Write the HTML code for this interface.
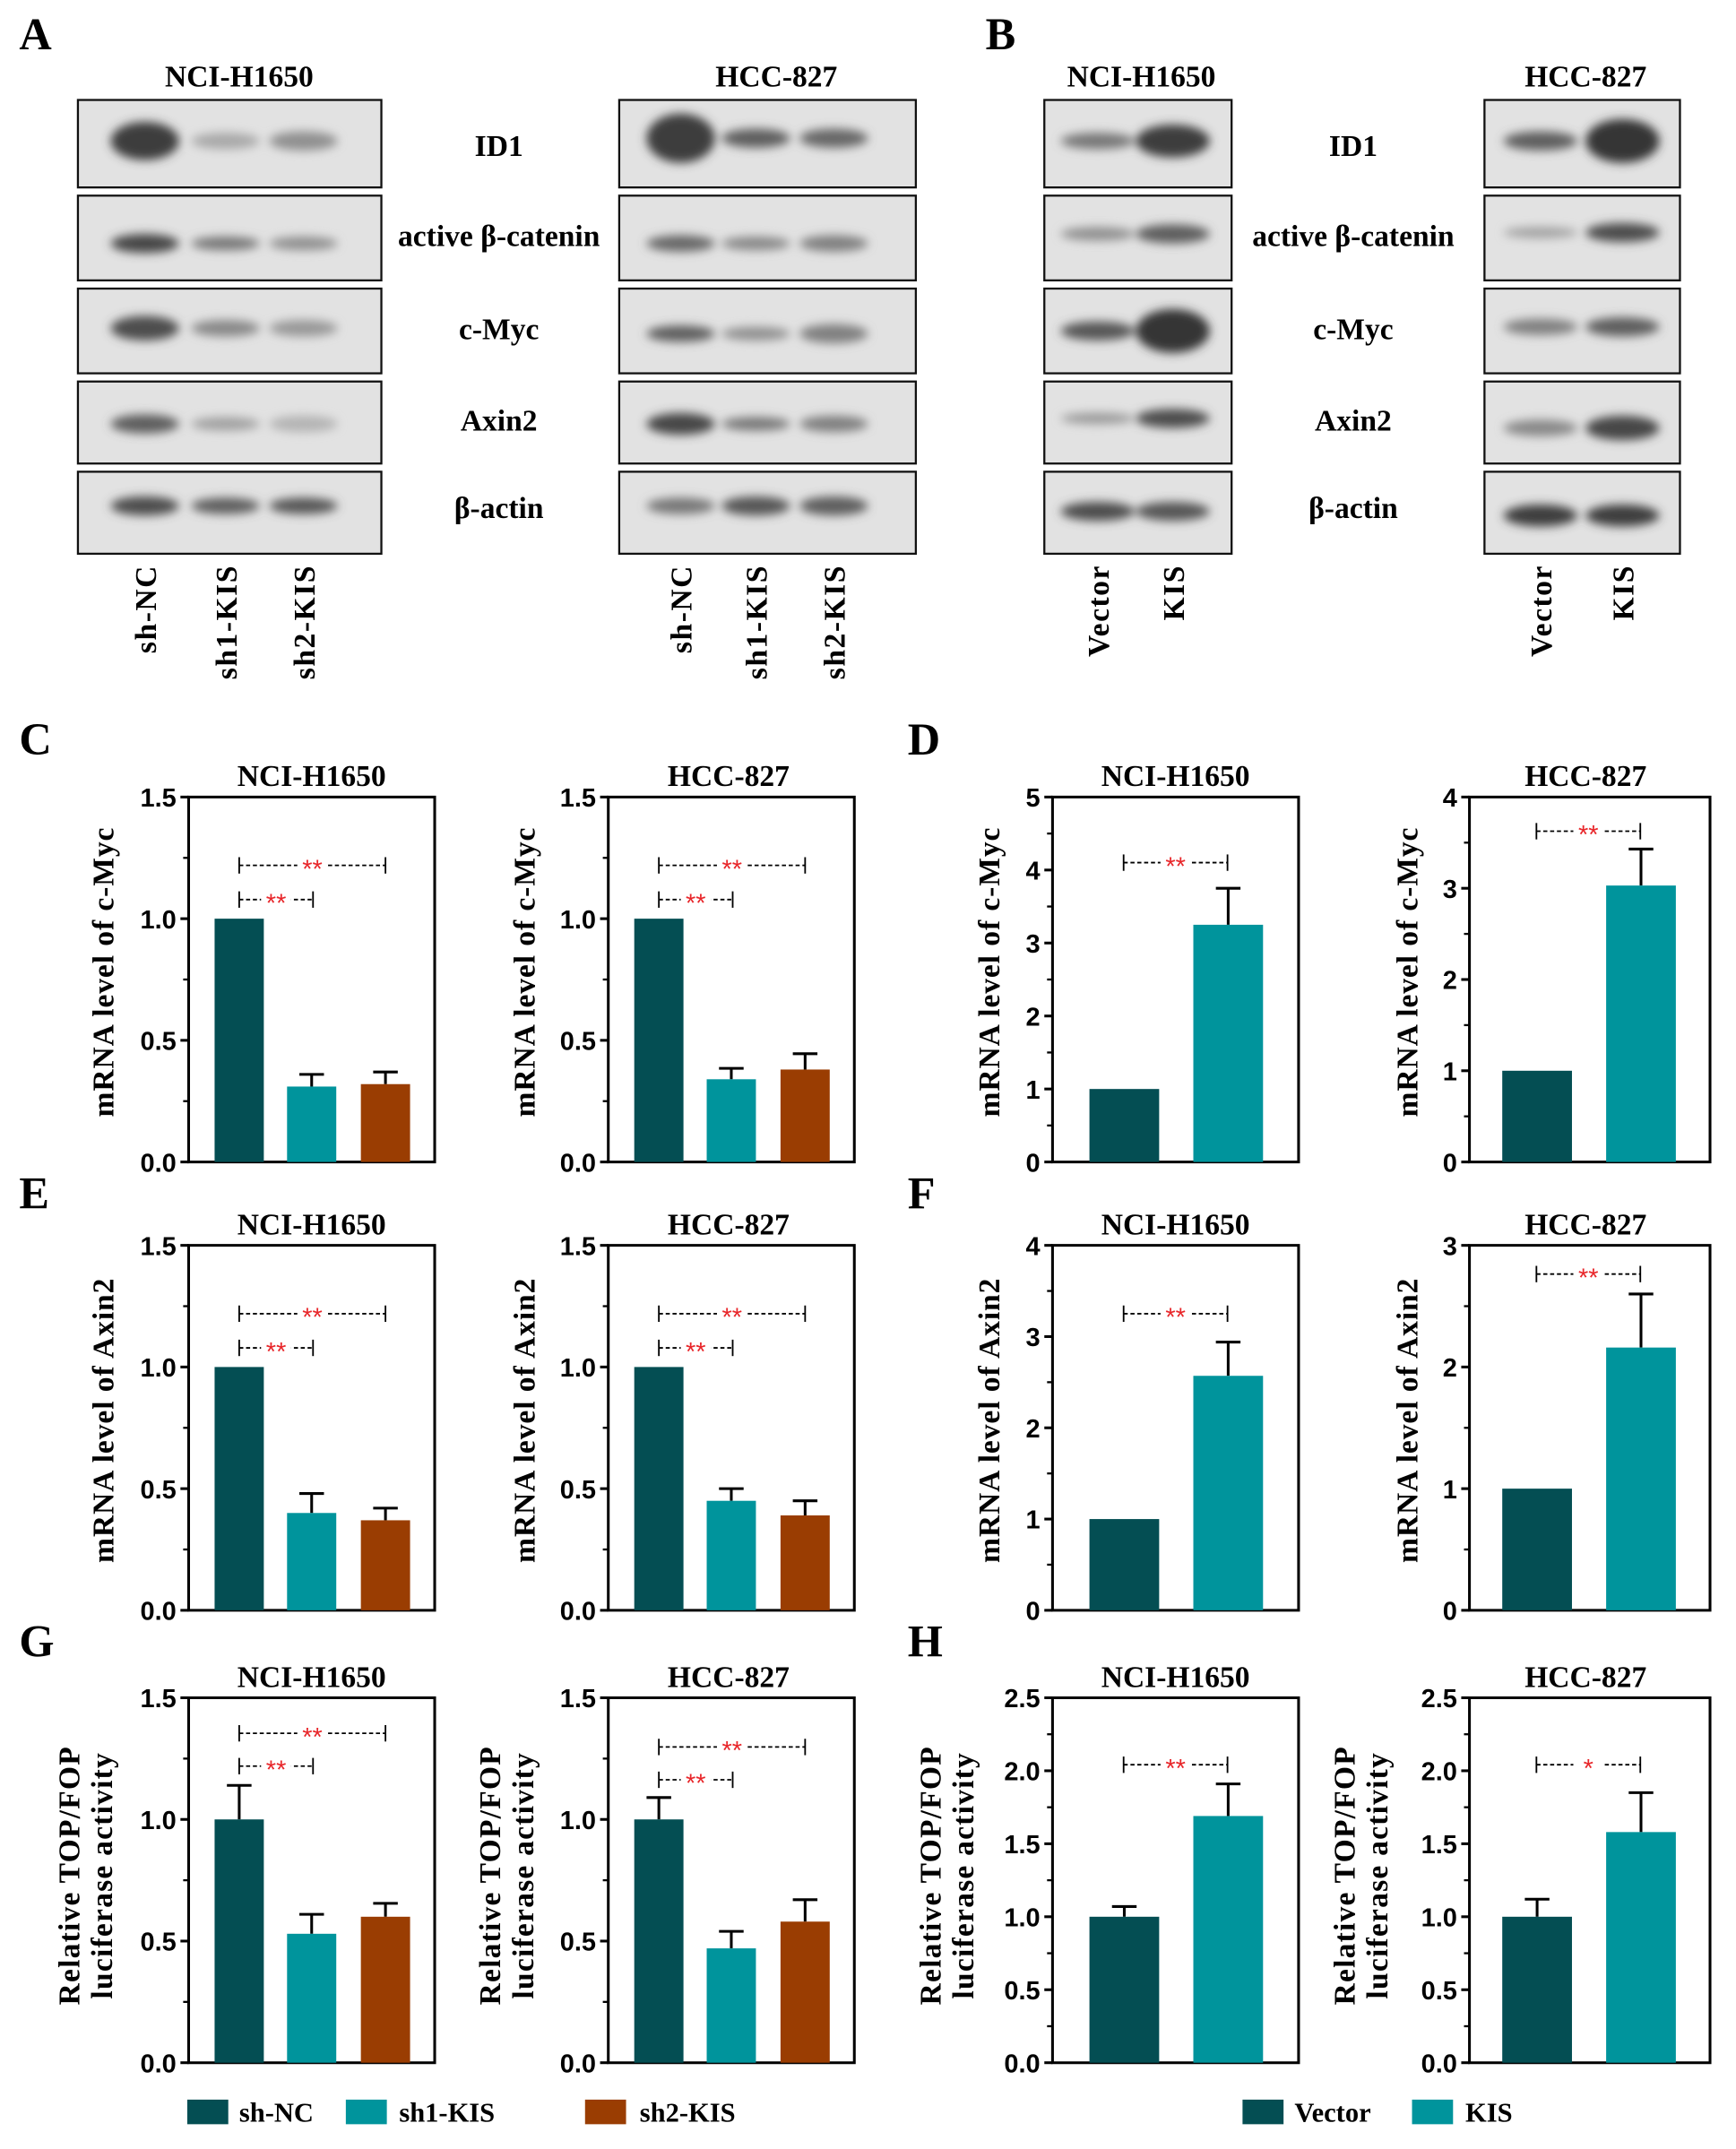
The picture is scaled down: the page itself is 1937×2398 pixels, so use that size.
<!DOCTYPE html>
<html><head><meta charset="utf-8">
<style>
html,body{margin:0;padding:0;background:#fff;}
svg{display:block;}
.t{font-family:"Liberation Serif",serif;font-weight:bold;}
.tk{font-family:"Liberation Sans Narrow","Liberation Sans",sans-serif;font-weight:bold;font-size:19px;}
</style></head>
<body>
<svg id="fig" width="1937" height="2398" viewBox="0 0 1270 1572" xmlns="http://www.w3.org/2000/svg">
<defs>
<filter id="blur" x="-50%" y="-100%" width="200%" height="300%"><feGaussianBlur stdDeviation="3.5"/></filter>
</defs>
<g id="blots"></g>
<g id="charts"></g>
</svg>
<script>
// ---------- chart data ----------
const groups3 = ["sh-NC","sh1-KIS","sh2-KIS"];
const groups2 = ["Vector","KIS"];
const cLeftVals = [1.0,0.31,0.32];   const cLeftErr = [0,0.05,0.05];
const cRightVals = [1.0,0.34,0.38];  const cRightErr = [0,0.045,0.065];
const dLeftVals = [1.0,3.25];        const dLeftErr = [0,0.5];
const dRightVals = [1.0,3.03];       const dRightErr = [0,0.4];
const eLeftVals = [1.0,0.40,0.37];   const eLeftErr = [0,0.08,0.05];
const eRightVals = [1.0,0.45,0.39];  const eRightErr = [0,0.05,0.06];
const fLeftVals = [1.0,2.57];        const fLeftErr = [0,0.37];
const fRightVals = [1.0,2.16];       const fRightErr = [0,0.44];
const gLeftVals = [1.0,0.53,0.60];   const gLeftErr = [0.14,0.08,0.055];
const gRightVals = [1.0,0.47,0.58];  const gRightErr = [0.09,0.07,0.09];
const hLeftVals = [1.0,1.69];        const hLeftErr = [0.07,0.22];
const hRightVals = [1.0,1.58];       const hRightErr = [0.12,0.27];
const ticks15 = ["0.0","0.5","1.0","1.5"];
const ticks5 = ["0","1","2","3","4","5"];
const ticks4 = ["0","1","2","3","4"];
const ticks3 = ["0","1","2","3"];
const ticks25 = ["0.0","0.5","1.0","1.5","2.0","2.5"];

const NS="http://www.w3.org/2000/svg";
const colors=["#044e53","#00949c","#9a3d02"];
function mk(parent,tag,attrs,text){const e=document.createElementNS(NS,tag);for(const k in attrs)e.setAttribute(k,attrs[k]);if(text!==undefined)e.textContent=text;parent.appendChild(e);return e;}
const charts=document.getElementById('charts');
const blots=document.getElementById('blots');

function chart(o){
  const g=mk(charts,'g',{});
  
  
  const top=o.top,bot=o.top+267,L=o.left,R=o.right;
  const max=parseFloat(o.ticks[o.ticks.length-1]);
  const y=v=>bot-(v/max)*(bot-top);
  mk(g,'path',{d:`M${L},${top}H${R}V${bot}H${L}Z`,fill:'none',stroke:'#000','stroke-width':2});
  const step=max/(o.ticks.length-1);
  o.ticks.forEach((t,i)=>{
    const v=parseFloat(t);
    mk(g,'line',{x1:L-6,x2:L,y1:y(v),y2:y(v),stroke:'#000','stroke-width':2});
    const tl=mk(g,'text',{x:L-9,y:y(v)+7,'text-anchor':'end',class:'tk'},t);
    
    
    if(i<o.ticks.length-1) mk(g,'line',{x1:L-4,x2:L,y1:y(v+step/2),y2:y(v+step/2),stroke:'#000','stroke-width':1.5});
  });
  o.vals.forEach((v,i)=>{
    const x0=o.bx[i],w=o.bw;
    const e=o.err[i];
    if(e>0){
      mk(g,'line',{x1:x0+w/2,x2:x0+w/2,y1:y(v),y2:y(v+e),stroke:'#000','stroke-width':2});
      mk(g,'line',{x1:x0+w/2-9,x2:x0+w/2+9,y1:y(v+e),y2:y(v+e),stroke:'#000','stroke-width':2});
    }
    const b=mk(g,'rect',{x:x0,y:y(v),width:w,height:bot-y(v),fill:colors[i]});
    
    
  });
  const tt=mk(g,'text',{x:o.titleX,y:top-8,'text-anchor':'middle',class:'t','font-size':22},o.title);
  
  
  const lab=o.ylab;
  if(lab.length===1){
    const yl=mk(g,'text',{transform:`translate(${o.ylx},${top+128}) rotate(-90)`,'text-anchor':'middle',class:'t','font-size':22,'font-family':'Liberation Serif','letter-spacing':'0.6'},lab[0]);
    
    
  } else {
    const yl=mk(g,'text',{transform:`translate(${o.ylx},${top+130}) rotate(-90)`,'text-anchor':'middle',class:'t','font-size':22,'letter-spacing':'0.8'},'');
    
    
    mk(yl,'tspan',{x:0,y:-12},lab[0]);mk(yl,'tspan',{x:0,y:12},lab[1]);
  }
  o.br.forEach(b=>{
    const x1=b[0],x2=b[1],yy=top+b[2];
    mk(g,'line',{x1:x1,x2:x2,y1:yy,y2:yy,stroke:'#000','stroke-width':1.2,'stroke-dasharray':'3,2'});
    mk(g,'line',{x1:x1,x2:x1,y1:yy-6,y2:yy+6,stroke:'#000','stroke-width':1.2});
    mk(g,'line',{x1:x2,x2:x2,y1:yy-6,y2:yy+6,stroke:'#000','stroke-width':1.2});
    const m=(x1+x2)/2;
    mk(g,'rect',{x:m-11,y:yy-6,width:22,height:12,fill:'#fff'});
    const s=mk(g,'text',{x:m,y:yy+9,'text-anchor':'middle',fill:'#e8262a','font-family':'Liberation Sans','font-size':19},b[3]);
    
    
  });
}
const bx3L=[157,210,264], bx3R=[464,517,571], bx2L=[797,873], bx2R=[1099,1175];
const brL=[[175,282,50,'**'],[175,229,75,'**']], brR=[[482,589,50,'**'],[482,536,75,'**']];
chart({name:'chart-c-nci-h1650',top:583,left:138,right:318,bx:bx3L,bw:36,vals:cLeftVals,err:cLeftErr,groups:groups3,ticks:ticks15,title:'NCI-H1650',titleX:228,ylab:['mRNA level of c-Myc'],ylx:83,br:brL});
chart({name:'chart-c-hcc-827',top:583,left:445,right:625,bx:bx3R,bw:36,vals:cRightVals,err:cRightErr,groups:groups3,ticks:ticks15,title:'HCC-827',titleX:533,ylab:['mRNA level of c-Myc'],ylx:391,br:brR});
chart({name:'chart-d-nci-h1650',top:583,left:770,right:950,bx:bx2L,bw:51,vals:dLeftVals,err:dLeftErr,groups:groups2,ticks:ticks5,title:'NCI-H1650',titleX:860,ylab:['mRNA level of c-Myc'],ylx:731,br:[[822,898,48,'**']]});
chart({name:'chart-d-hcc-827',top:583,left:1075,right:1251,bx:bx2R,bw:51,vals:dRightVals,err:dRightErr,groups:groups2,ticks:ticks4,title:'HCC-827',titleX:1160,ylab:['mRNA level of c-Myc'],ylx:1037,br:[[1124,1200,25,'**']]});
chart({name:'chart-e-nci-h1650',top:911,left:138,right:318,bx:bx3L,bw:36,vals:eLeftVals,err:eLeftErr,groups:groups3,ticks:ticks15,title:'NCI-H1650',titleX:228,ylab:['mRNA level of Axin2'],ylx:83,br:brL});
chart({name:'chart-e-hcc-827',top:911,left:445,right:625,bx:bx3R,bw:36,vals:eRightVals,err:eRightErr,groups:groups3,ticks:ticks15,title:'HCC-827',titleX:533,ylab:['mRNA level of Axin2'],ylx:391,br:brR});
chart({name:'chart-f-nci-h1650',top:911,left:770,right:950,bx:bx2L,bw:51,vals:fLeftVals,err:fLeftErr,groups:groups2,ticks:ticks4,title:'NCI-H1650',titleX:860,ylab:['mRNA level of Axin2'],ylx:731,br:[[822,898,50,'**']]});
chart({name:'chart-f-hcc-827',top:911,left:1075,right:1251,bx:bx2R,bw:51,vals:fRightVals,err:fRightErr,groups:groups2,ticks:ticks3,title:'HCC-827',titleX:1160,ylab:['mRNA level of Axin2'],ylx:1037,br:[[1124,1200,21,'**']]});
chart({name:'chart-g-nci-h1650',top:1242,left:138,right:318,bx:bx3L,bw:36,vals:gLeftVals,err:gLeftErr,groups:groups3,ticks:ticks15,title:'NCI-H1650',titleX:228,ylab:['Relative TOP/FOP','luciferase activity'],ylx:70,br:[[175,282,26,'**'],[175,229,50,'**']]});
chart({name:'chart-g-hcc-827',top:1242,left:445,right:625,bx:bx3R,bw:36,vals:gRightVals,err:gRightErr,groups:groups3,ticks:ticks15,title:'HCC-827',titleX:533,ylab:['Relative TOP/FOP','luciferase activity'],ylx:378,br:[[482,589,36,'**'],[482,536,60,'**']]});
chart({name:'chart-h-nci-h1650',top:1242,left:770,right:950,bx:bx2L,bw:51,vals:hLeftVals,err:hLeftErr,groups:groups2,ticks:ticks25,title:'NCI-H1650',titleX:860,ylab:['Relative TOP/FOP','luciferase activity'],ylx:700,br:[[822,898,49,'**']]});
chart({name:'chart-h-hcc-827',top:1242,left:1075,right:1251,bx:bx2R,bw:51,vals:hRightVals,err:hRightErr,groups:groups2,ticks:ticks25,title:'HCC-827',titleX:1160,ylab:['Relative TOP/FOP','luciferase activity'],ylx:1003,br:[[1124,1200,49,'*']]});

const legItems=[[137,175,'sh-NC',0],[253,292,'sh1-KIS',1],[428,468,'sh2-KIS',2],[909,947,'Vector',0],[1033,1072,'KIS',1]];
legItems.forEach(l=>{
  const g=mk(charts,'g',{});
  
  
  mk(g,'rect',{x:l[0],y:1536,width:30,height:18,fill:colors[l[3]]});
  mk(g,'text',{x:l[1],y:1552,class:'t','font-size':20},l[2]);
});

[['A',14,36],['B',721,36],['C',14,552],['D',664,552],['E',14,884],['F',664,884],['G',14,1212],['H',664,1212]].forEach(p=>{
  const t=mk(charts,'text',{x:p[1],y:p[2],class:'t','font-size':33},p[0]);
  
  
});

// ---------- blots ----------
const rowY=[[73,137],[143,205],[211,273],[279,339],[345,405]];
const rowNames=['ID1','active β-catenin','c-Myc','Axin2','β-actin'];
const rowLabY=[107,173,241,308,372];
const panels=[
 {name:'a-nci-h1650',x1:57,x2:279,lanes:[106,165,222],title:'NCI-H1650',tx:175,
  bands:[[[0.9,14],[0.25,6],[0.4,7]],[[0.85,7],[0.55,5],[0.4,5]],[[0.8,9],[0.45,6],[0.35,6]],[[0.7,7],[0.3,5],[0.18,6]],[[0.8,7],[0.7,6],[0.75,6]]],
  bandY:[103,178,240,310,370],labels:groups3},
 {name:'a-hcc-827',x1:453,x2:670,lanes:[498,553,610],title:'HCC-827',tx:568,
  bands:[[[0.9,18],[0.7,7],[0.65,7]],[[0.65,6],[0.45,5],[0.5,6]],[[0.7,6],[0.4,5],[0.5,7]],[[0.85,8],[0.55,5],[0.5,6]],[[0.55,6],[0.75,7],[0.7,7]]],
  bandY:[101,178,244,310,370],labels:groups3},
 {name:'b-nci-h1650',x1:764,x2:901,lanes:[803,858],title:'NCI-H1650',tx:835,
  bands:[[[0.55,6],[0.9,12]],[[0.4,5],[0.7,7]],[[0.75,7],[0.95,16]],[[0.35,4],[0.8,7]],[[0.8,7],[0.75,7]]],
  bandY:[103,171,242,306,374],labels:groups2},
 {name:'b-hcc-827',x1:1086,x2:1229,lanes:[1127,1187],title:'HCC-827',tx:1160,
  bands:[[[0.7,7],[0.95,16]],[[0.3,4],[0.8,7]],[[0.5,6],[0.7,7]],[[0.45,6],[0.85,9]],[[0.9,8],[0.9,8]]],
  bandY:[103,170,239,313,377],labels:groups2}
];
panels.forEach(p=>{
  const g=mk(blots,'g',{});
  
  
  mk(g,'text',{x:p.tx,y:63,'text-anchor':'middle',class:'t','font-size':22},p.title);
  rowY.forEach((r,ri)=>{
    mk(g,'rect',{x:p.x1,y:r[0],width:p.x2-p.x1,height:r[1]-r[0],fill:'#e2e2e2',stroke:'#111','stroke-width':1.5});
    const cg=mk(g,'g',{filter:'url(#blur)'});
    const lw=(p.lanes.length===3)?25:27;
    p.lanes.forEach((lx,li)=>{
      const b=p.bands[ri][li];
      const gray=Math.round(210-b[0]*165);
      mk(cg,'ellipse',{cx:lx,cy:p.bandY[ri],rx:lw,ry:b[1],fill:`rgb(${gray},${gray},${gray})`});
    });
  });
  p.labels.forEach((l,li)=>{
    const tl=mk(g,'text',{transform:`translate(${p.lanes[li]+8},${413}) rotate(-90)`,'text-anchor':'end',class:'t','font-size':22,'letter-spacing':'1'},l);
    
    
  });
});
rowNames.forEach((n,i)=>{
  [365,990].forEach(x=>{
    const t=mk(blots,'text',{x:x,y:rowLabY[i]+7,'text-anchor':'middle',class:'t','font-size':22},n);
    
    
  });
});
</script>
</body></html>
